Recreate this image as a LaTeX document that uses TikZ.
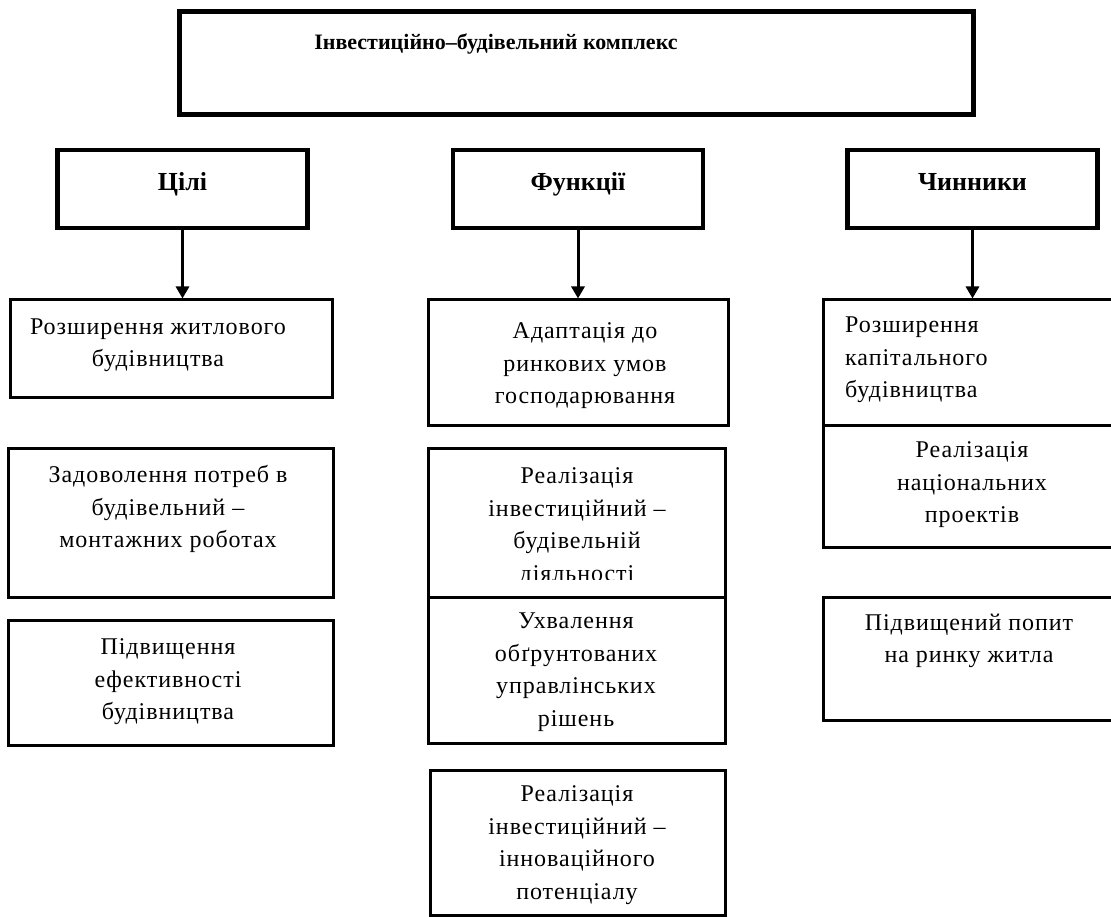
\documentclass[tikz,border=0pt]{standalone}
\usepackage{fontspec}
\setmainfont{Liberation Serif}
\newfontfamily\itemfont{Liberation Serif}[LetterSpace=4]
\usetikzlibrary{arrows.meta}

\tikzset{
  headbox/.style={draw, line width=4.5pt, minimum width=250pt, minimum height=78pt, inner sep=0pt, text height=18pt, text depth=15pt},
  itembox/.style={draw, line width=3pt, inner sep=0pt},
  headtext/.style={font=\fontsize{26}{30}\selectfont\bfseries},
  itemtext/.style={font=\itemfont\fontsize{24}{32.5}\selectfont, align=center, inner sep=0pt}
}

\begin{document}
\begin{tikzpicture}[x=1pt, y=-1pt, >={Triangle[width=13pt,length=12pt]}]
    \useasboundingbox (0,0) rectangle (1111,917);
    % top
    \node[itembox, line width=5pt, minimum width=794pt, minimum height=103pt] (complex) at (576,63.5) {};
    \node[font=\fontsize{22}{26}\selectfont\bfseries] (complextext) at (496,44) {Інвестиційно–будівельний комплекс};
    % headers
    \node[headbox, headtext] (goals) at (182.5,189) {Цілі};
    \node[headbox, headtext] (functions) at (578,189) {Функції};
    \node[headbox, headtext] (factors) at (972.5,189) {Чинники};
    % goals
    \node[itembox, minimum width=322pt, minimum height=97pt] (goal1) at (171,348.5) {};
    \node[itemtext] (goal1text) at (158,345) {Розширення житлового\\будівництва};
    \node[itembox, minimum width=325pt, minimum height=149pt] (goal2) at (170.5,522.5) {};
    \node[itemtext] (goal2text) at (168,509) {Задоволення потреб в\\будівельний –\\монтажних роботах};
    \node[itembox, minimum width=325pt, minimum height=125pt] (goal3) at (170.5,682.5) {};
    \node[itemtext] (goal3text) at (168,682) {Підвищення\\ефективності\\будівництва};
    % functions
    \node[itembox, minimum width=300pt, minimum height=125pt] (func1) at (578,362.5) {};
    \node[itemtext] (func1text) at (585,366) {Адаптація до\\ринкових умов\\господарювання};
    \node[itembox, minimum width=297pt, minimum height=149pt] (func2) at (576.5,522.5) {};
    \begin{scope}
        \clip (428,448) rectangle (725,579.5);
        \node[itemtext] (func2text) at (577,527) {Реалізація\\інвестиційний –\\будівельній\\діяльності};
    \end{scope}
    \node[itembox, minimum width=297pt, minimum height=146pt] (func3) at (576.5,670) {};
    \node[itemtext] (func3text) at (576,672) {Ухвалення\\обґрунтованих\\управлінських\\рішень};
    \node[itembox, minimum width=295pt, minimum height=145pt] (func4) at (577.5,842.5) {};
    \node[itemtext] (func4text) at (577,845) {Реалізація\\інвестиційний –\\інноваційного\\потенціалу};
    % factors
    \node[itembox, minimum width=297pt, minimum height=125pt] (fact1) at (971.5,362.5) {};
    \node[itemtext, anchor=west, align=left] (fact1text) at (845,360) {Розширення\\капітального\\будівництва};
    \node[itembox, minimum width=297pt, minimum height=122pt] (fact2) at (971.5,486) {};
    \node[itemtext] (fact2text) at (972,485) {Реалізація\\національних\\проектів};
    \node[itembox, minimum width=297pt, minimum height=123pt] (fact3) at (971.5,658.5) {};
    \node[itemtext] (fact3text) at (969,641) {Підвищений попит\\на ринку житла};
    % arrows
    \draw[->, line width=3pt] (goals.south) -- (goals.south |- goal1.north);
    \draw[->, line width=3pt] (functions.south) -- (functions.south |- func1.north);
    \draw[->, line width=3pt] (factors.south) -- (factors.south |- fact1.north);
\end{tikzpicture}
\end{document}
